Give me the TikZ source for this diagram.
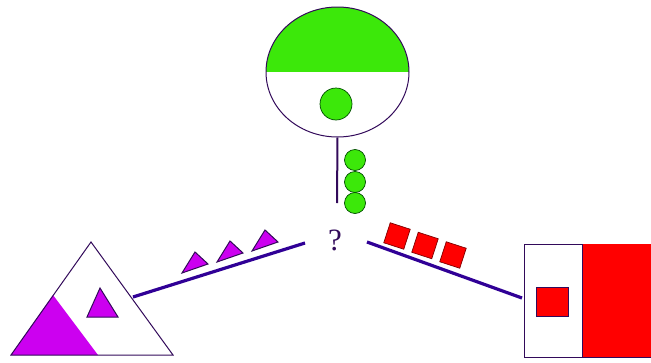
\documentclass[tikz,border=0pt]{standalone}
\usepackage{fontspec}
\setmainfont{Liberation Serif}
\usetikzlibrary{positioning,shapes.geometric}
\definecolor{leaf}{RGB}{60,232,10}
\definecolor{plum}{RGB}{204,0,240}
\definecolor{ink}{RGB}{48,0,150}
\definecolor{rim}{RGB}{50,10,90}

\begin{document}
\begin{tikzpicture}[x=1pt, y=-1pt,
  rimline/.style={draw=rim, line width=1pt},
  link/.style={draw=ink, line width=3.2pt},
  stem/.style={draw=rim, line width=2pt},
  dot/.style={circle, draw=green!30!black, fill=leaf, line width=0.7pt,
    inner sep=0pt},
  chip/.style={draw=red!50!black, fill=red, line width=0.7pt,
    inner sep=0pt, minimum size=21pt, rotate=-18}]
\clip (0,0) rectangle (651,362);

\node[ellipse, rimline, minimum width=143pt, minimum height=130pt,
  path picture={\fill[leaf] (path picture bounding box.north west)
    rectangle (path picture bounding box.east);}] (head) at (337.5,72) {};
\node[dot, minimum size=32pt] (seed) at (336,104) {};
\coordinate (stemend) at (337,203);
\draw[stem] (head.south) -- (stemend);
\foreach \y [count=\i] in {160,182,203}
  \node[dot, minimum size=21pt] (bead\i) at (355,\y) {};

\node[text=rim, font=\fontsize{31}{31}\selectfont] (ask) at (335,240) {?};

\coordinate (apex) at (91,242);
\coordinate (baseL) at (11,355);
\coordinate (baseR) at (173,355);
\fill[plum] (53,295) -- (baseL) -- (98,355) -- cycle;
\draw[rimline, line join=miter] (apex) -- (baseR) -- (baseL) -- cycle;
\draw[rimline, fill=plum] (100,288) -- (87,317) -- (118,317) -- cycle;
\coordinate (triout) at (133,297);
\coordinate (trilink) at (305,243);
\draw[link] (triout) -- (trilink);
\foreach \i in {0,1,2}
  \draw[rimline, fill=plum, shift={(\i*35,-\i*11)}]
    (195,252) -- (182,273) -- (208,264) -- cycle;

\draw[rimline] (524,244) rectangle (660,357);
\fill[red] (582,244) rectangle (660,357);
\draw[rimline] (582,244) -- (582,357);
\draw[rimline, fill=red] (536,287) rectangle (568,316);
\coordinate (sqlink) at (367,242);
\coordinate (sqin) at (522,298);
\draw[link] (sqlink) -- (sqin);
\foreach \x/\y [count=\i] in {397/236,425/245.5,453/255}
  \node[chip] (chip\i) at (\x,\y) {};
\end{tikzpicture}
\end{document}
